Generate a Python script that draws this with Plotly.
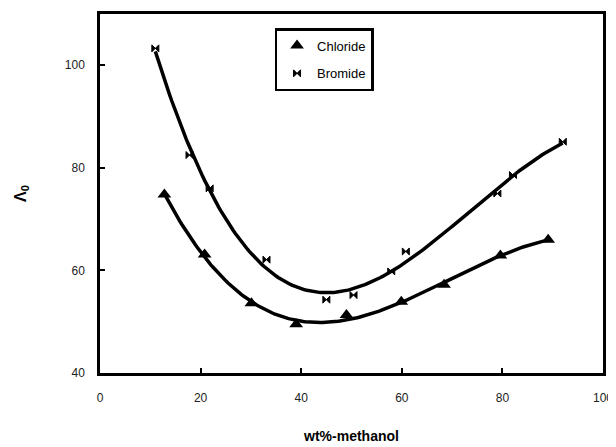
import numpy as np
import plotly.graph_objects as go

# Data
chloride_x = [12.8, 20.8, 30.1, 39.0, 49.0, 59.9, 68.4, 79.6, 89.1]
chloride_y = [74.8, 63.1, 53.6, 49.5, 51.3, 53.9, 57.2, 62.9, 66.0]
bromide_x = [11.0, 17.8, 21.8, 33.1, 45.0, 50.4, 57.9, 60.8, 79.0, 82.1, 92.0]
bromide_y = [103.3, 82.5, 76.0, 62.1, 54.3, 55.2, 59.8, 63.7, 75.0, 78.6, 85.1]
x_ticks = [0, 20, 40, 60, 80, 100]
y_ticks = [40, 60, 80, 100]
TREND_ORDER = 3

def trend(xs, ys, order):
    c = np.polyfit(xs, ys, order)
    xf = np.linspace(min(xs), max(xs), 200)
    return xf, np.polyval(c, xf)

fig = go.Figure()
for xs, ys in [(chloride_x, chloride_y), (bromide_x, bromide_y)]:
    xf, yf = trend(xs, ys, TREND_ORDER)
    fig.add_trace(go.Scatter(x=xf, y=yf, mode="lines", line=dict(color="black", width=3.5),
                             showlegend=False, hoverinfo="skip"))

fig.add_trace(go.Scatter(x=chloride_x, y=chloride_y, mode="markers", name="Chloride",
                         legendgroup="c",
                         marker=dict(symbol="triangle-up", size=12, color="black")))
fig.add_trace(go.Scatter(x=bromide_x, y=bromide_y, mode="markers", name="Bromide",
                         legendgroup="b",
                         marker=dict(symbol="bowtie", size=7, color="black",
                                     line=dict(color="black", width=1))))

fig.update_layout(
    width=616, height=447,
    margin=dict(l=92, r=21, t=6, b=82, autoexpand=False),
    paper_bgcolor="white", plot_bgcolor="white",
    font=dict(family="Liberation Sans, Arial, sans-serif", size=12, color="black"),
    showlegend=True,
    legend=dict(x=0.347, y=0.961, xanchor="left", yanchor="top",
                bgcolor="white", bordercolor="black", borderwidth=2.5,
                font=dict(size=13, family="Liberation Sans, Arial, sans-serif", color="black"),
                itemsizing="trace", tracegroupgap=8, itemwidth=30),
    xaxis=dict(range=[0, 100], tickvals=x_ticks, ticks="inside", ticklen=5, tickwidth=2,
               tickcolor="black", showline=True, linecolor="black", linewidth=2.5, mirror=True,
               showgrid=False, zeroline=False, ticklabelstandoff=12, automargin=False,
               tickfont=dict(size=12, color="#222"),
               title=dict(text="<b>wt%-methanol</b>", font=dict(size=14), standoff=28)),
    yaxis=dict(range=[40, 110], tickvals=y_ticks, ticks="inside", ticklen=5, tickwidth=2,
               tickcolor="black", showline=True, linecolor="black", linewidth=2.5, mirror=True,
               showgrid=False, zeroline=False, ticklabelstandoff=10, automargin=False,
               tickfont=dict(size=12, color="#222"),
               title=dict(text="<b>Λ<sub>0</sub></b>", font=dict(size=16), standoff=35)),
)
fig.write_html("out.html")
